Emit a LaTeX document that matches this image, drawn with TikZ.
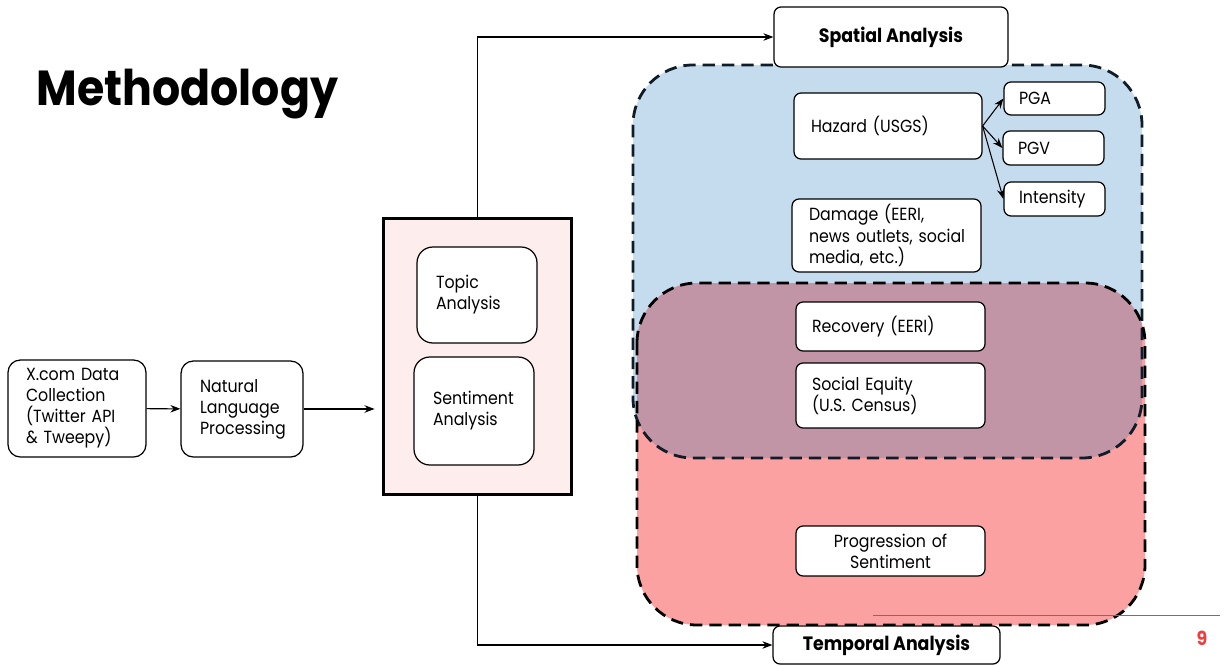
\documentclass[tikz,border=0pt]{standalone}
\usepackage{fontspec}
\setmainfont{Poppins}[FakeStretch=0.9]
\usepackage{tikz}
\usetikzlibrary{positioning, arrows.meta}

\definecolor{spatialblue}{RGB}{197,220,238}
\definecolor{temporalred}{RGB}{252,161,161}
\definecolor{overlapmauve}{RGB}{193,148,166}
\definecolor{framepink}{RGB}{253,237,237}
\definecolor{dashnavy}{RGB}{16,28,40}
\definecolor{slidered}{RGB}{240,60,60}

\hyphenpenalty=10000

\begin{document}
\begin{tikzpicture}[x=0.02cm, y=-0.02cm, >=Stealth, line width=0.7pt,
    font=\fontsize{10}{12}\selectfont,
    box/.style={draw, fill=white, rounded corners=4pt, align=left, inner ysep=0pt},
    head/.style={box, align=center, font=\fontsize{11}{13}\selectfont\bfseries},
    region/.style={line width=1.6pt, dash pattern=on 7pt off 4pt, rounded corners=1.2cm},
    link/.style={->, line width=0.6pt}]

    \useasboundingbox (0,0) rectangle (1225,666);

    % Title
    \node[anchor=base west, inner sep=0pt, font=\fontsize{28}{30}\selectfont\bfseries] (title) at (36,105) {Methodology};

    % Regions (spatial / temporal)
    \fill[spatialblue, rounded corners=1.2cm] (633,65) rectangle (1142,458);
    \fill[temporalred, rounded corners=1.2cm] (637,283) rectangle (1145,625);
    \begin{scope}
        \clip[rounded corners=1.2cm] (633,65) rectangle (1142,458);
        \fill[overlapmauve, rounded corners=1.2cm] (637,283) rectangle (1145,625);
    \end{scope}
    \draw[region, dashnavy] (633,65) rectangle (1142,458);
    \draw[region] (637,283) rectangle (1145,625);

    % Slide footer
    \draw[slidered, line width=0.5pt] (873,615) -- (1220,615);
    \node[text=slidered, font=\fontsize{11}{13}\selectfont\bfseries] (page) at (1202,638) {9};

    % Nodes input
    \node[box, rounded corners=7pt, text width=2.04cm, inner xsep=0.36cm, minimum height=1.94cm] (xcom) at (77,408.5) {X.com Data\\Collection\\(Twitter API\\\& Tweepy)};
    \node[box, rounded corners=7pt, text width=1.68cm, inner xsep=0.38cm, minimum height=1.92cm] (nlp) at (242,409) {Natural\\Language\\Processing};

    % Nodes analysis
    \node[draw, line width=1.7pt, fill=framepink, minimum width=3.78cm, minimum height=5.54cm, inner sep=0pt] (frame) at (477.5,356.5) {};
    \node[box, rounded corners=9pt, text width=1.64cm, inner xsep=0.38cm, minimum height=1.92cm] (topic) at (477,295) {Topic\\Analysis};
    \node[box, rounded corners=9pt, text width=1.64cm, inner xsep=0.38cm, minimum height=2.16cm] (senti) at (474,411) {Sentiment\\Analysis};

    % Nodes output
    \node[head, minimum width=4.68cm, minimum height=1.2cm] (spatial) at (891,37) {Spatial Analysis};
    \node[head, minimum width=4.54cm, minimum height=0.76cm] (temporal) at (886.5,645) {Temporal Analysis};

    % Nodes spatial
    \node[box, text width=3.08cm, inner xsep=0.34cm, minimum height=1.32cm] (hazard) at (888,126) {Hazard (USGS)};
    \node[box, text width=1.42cm, inner xsep=0.3cm, minimum height=0.66cm] (pga) at (1054.5,98.5) {PGA};
    \node[box, text width=1.42cm, inner xsep=0.3cm, minimum height=0.68cm] (pgv) at (1053.5,148) {PGV};
    \node[box, text width=1.42cm, inner xsep=0.3cm, minimum height=0.68cm] (intensity) at (1054.5,199) {Intensity};
    \node[box, text width=3.1cm, inner xsep=0.34cm, minimum height=1.46cm] (damage) at (886.5,235.5) {Damage (EERI,\\news~outlets,~social\\media, etc.)};

    % Nodes overlap
    \node[box, text width=3.14cm, inner xsep=0.32cm, minimum height=0.98cm] (recovery) at (890.5,326.5) {Recovery (EERI)};
    \node[box, text width=3.14cm, inner xsep=0.32cm, minimum height=1.3cm] (equity) at (890.5,395.5) {Social Equity\\(U.S. Census)};

    % Nodes temporal
    \node[box, align=center, text width=3.14cm, inner xsep=0.32cm, minimum height=1.0cm] (progress) at (890.5,551) {Progression of\\Sentiment};

    % Connections
    \draw[link] (xcom) -- (nlp);
    \draw[link, shorten >=0.14cm] (nlp.east) -- (nlp.east -| frame.west);
    \draw[link] (frame.north) |- (spatial.west);
    \draw[link] (frame.south) |- (temporal.west);
    \draw[link] (hazard.east) -- (pga.west);
    \draw[link] (hazard.east) -- (pgv.west);
    \draw[link] (hazard.east) -- (intensity.west);
\end{tikzpicture}
\end{document}
